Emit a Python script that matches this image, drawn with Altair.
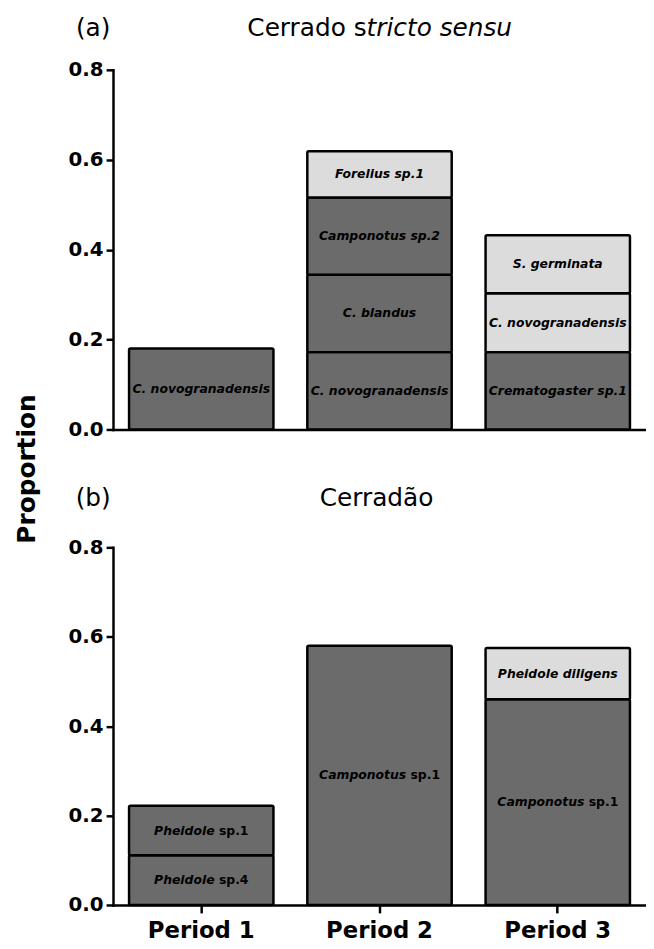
import altair as alt
import pandas as pd

periods = ["Period 1", "Period 2", "Period 3"]

# Panel (a): Cerrado stricto sensu
a_period = ["Period 1", "Period 2", "Period 2", "Period 2", "Period 2",
            "Period 3", "Period 3", "Period 3"]
a_label = ["C. novogranadensis", "C. novogranadensis", "C. blandus",
           "Camponotus sp.2", "Forelius sp.1", "Crematogaster sp.1",
           "C. novogranadensis", "S. germinata"]
a_value = [0.180, 0.172, 0.172, 0.172, 0.103, 0.172, 0.131, 0.129]
a_shade = ["dark", "dark", "dark", "dark", "light", "dark", "light", "light"]

# Panel (b): Cerradão
b_period = ["Period 1", "Period 1", "Period 2", "Period 3", "Period 3"]
b_genus = ["Pheidole", "Pheidole", "Camponotus", "Camponotus", "Pheidole diligens"]
b_sp = ["sp.4", "sp.1", "sp.1", "sp.1", ""]
b_value = [0.111, 0.111, 0.580, 0.460, 0.115]
b_shade = ["dark", "dark", "dark", "dark", "light"]

y_ticks = [0.0, 0.2, 0.4, 0.6, 0.8]

W, H_A, H_B = 538, 363, 361
LABEL_FS = 12.5
TITLE_FS = 25

# approximate DejaVu Sans Bold advance widths (em) used to place mixed-style labels
_BOLD_EM = {"C": .734, "P": .733, "a": .675, "m": 1.042, "p": .716, "o": .687,
            "n": .712, "t": .478, "u": .712, "s": .595, "h": .712, "e": .678,
            "i": .343, "d": .716, "l": .343, ".": .38, "1": .696, "4": .696,
            " ": .348}


def text_width(s, size):
    return sum(_BOLD_EM.get(ch, .65) for ch in s) * size


def stack(period, value):
    df = pd.DataFrame({"period": period, "value": value})
    df["y1"] = df.groupby("period")["value"].cumsum()
    df["y0"] = df["y1"] - df["value"]
    df["mid"] = (df["y0"] + df["y1"]) / 2
    df["row"] = range(len(df))
    return df


df_a = stack(a_period, a_value)
df_a["label"] = a_label
df_a["shade"] = a_shade

df_b = stack(b_period, b_value)
df_b["genus"] = b_genus
df_b["sp"] = b_sp
df_b["shade"] = b_shade

xscale = alt.Scale(domain=periods, paddingInner=0.19, paddingOuter=0.09)
yscale = alt.Scale(domain=[0, 0.8], nice=False, zero=True)
cscale = alt.Scale(domain=["dark", "light"], range=["#6b6b6b", "#dcdcdc"])

yaxis = alt.Axis(values=y_ticks, format=".1f", title=None, grid=False,
                 domainColor="black", domainWidth=2.5, tickColor="black",
                 tickWidth=2.5, tickSize=7, labelFont="DejaVu Sans",
                 labelFontWeight="bold", labelFontSize=20, labelColor="black",
                 labelPadding=3)
xaxis_a = alt.Axis(title=None, labels=False, ticks=False, domainColor="black",
                   domainWidth=2.5, grid=False)
xaxis_b = alt.Axis(title=None, labels=True, ticks=True, domainColor="black",
                   domainWidth=2.5, tickColor="black", tickWidth=2.5,
                   tickSize=8, labelFont="DejaVu Sans", labelFontWeight="bold",
                   labelFontSize=23, labelColor="black", labelPadding=7,
                   labelAngle=0, grid=False)


def bars(df, xaxis):
    return alt.Chart(df).mark_bar(stroke="black", strokeWidth=2.5,
                                  cornerRadius=1.5).encode(
        x=alt.X("period:N", scale=xscale, axis=xaxis),
        y=alt.Y("y0:Q", scale=yscale, axis=yaxis),
        y2="y1:Q",
        color=alt.Color("shade:N", scale=cscale, legend=None),
    )


def text_at(txt, x, y, size, style="normal", weight="normal", align="center",
            angle=0, font="DejaVu Sans"):
    return alt.Chart(pd.DataFrame({"t": [txt]})).mark_text(
        font=font, fontSize=size, fontStyle=style, fontWeight=weight,
        align=align, baseline="middle", angle=angle, color="black").encode(
        x=alt.value(x), y=alt.value(y), text="t:N")


cx = W / 2

# ---------- panel a ----------
bars_a = bars(df_a, xaxis_a)
labels_a = alt.Chart(df_a).mark_text(
    font="DejaVu Sans", fontSize=LABEL_FS, fontWeight="bold",
    fontStyle="italic", color="black", baseline="middle").encode(
    x=alt.X("period:N", scale=xscale, axis=xaxis_a),
    y=alt.Y("mid:Q", scale=yscale, axis=yaxis),
    text="label:N")

# title "Cerrado stricto sensu" (the s of stricto upright, as in the original)
t1, t2 = "Cerrado s", "tricto sensu"
tw1 = 4.834 * TITLE_FS
tw_all = 10.712 * TITLE_FS
split_a = cx - tw_all / 2 + tw1

panel_a = alt.layer(
    bars_a, labels_a,
    text_at("(a)", -20, -42, TITLE_FS),
    text_at(t1, split_a, -42, TITLE_FS, align="right"),
    text_at(t2, split_a, -42, TITLE_FS, style="italic", align="left"),
    text_at("Proportion", -87, 403, 25, weight="bold", angle=270),
).properties(width=W, height=H_A)

# ---------- panel b ----------
bars_b = bars(df_b, xaxis_b)
layers_b = [bars_b]
for _, r in df_b.iterrows():
    base = alt.Chart(df_b).transform_filter(alt.datum.row == int(r["row"]))
    enc_x = alt.X("period:N", scale=xscale, axis=xaxis_b)
    enc_y = alt.Y("mid:Q", scale=yscale, axis=yaxis)
    if r["sp"]:
        gw = text_width(r["genus"], LABEL_FS)
        sw = text_width(r["sp"], LABEL_FS)
        gap = text_width(" ", LABEL_FS)
        split = -(gw + gap + sw) / 2 + gw
        layers_b.append(base.mark_text(
            font="DejaVu Sans", fontSize=LABEL_FS, fontWeight="bold",
            fontStyle="italic", align="right", baseline="middle",
            dx=split, color="black").encode(x=enc_x, y=enc_y, text="genus:N"))
        layers_b.append(base.mark_text(
            font="DejaVu Sans", fontSize=LABEL_FS, fontWeight="bold",
            align="left", baseline="middle", dx=split + gap,
            color="black").encode(x=enc_x, y=enc_y, text="sp:N"))
    else:
        layers_b.append(base.mark_text(
            font="DejaVu Sans", fontSize=LABEL_FS, fontWeight="bold",
            fontStyle="italic", align="center", baseline="middle",
            color="black").encode(x=enc_x, y=enc_y, text="genus:N"))

panel_b = alt.layer(
    *layers_b,
    text_at("(b)", -20, -50, TITLE_FS),
    text_at("Cerradão", cx - 3, -50, TITLE_FS),
).properties(width=W, height=H_B)

chart = alt.vconcat(panel_a, panel_b, spacing=119, bounds="flush").properties(
    padding={"left": 7, "top": 4, "right": 0, "bottom": 0}
).configure_view(stroke=None).configure_axis(domainCap="square")

chart.save("out.html", embed_options={"renderer": "svg", "actions": False})
